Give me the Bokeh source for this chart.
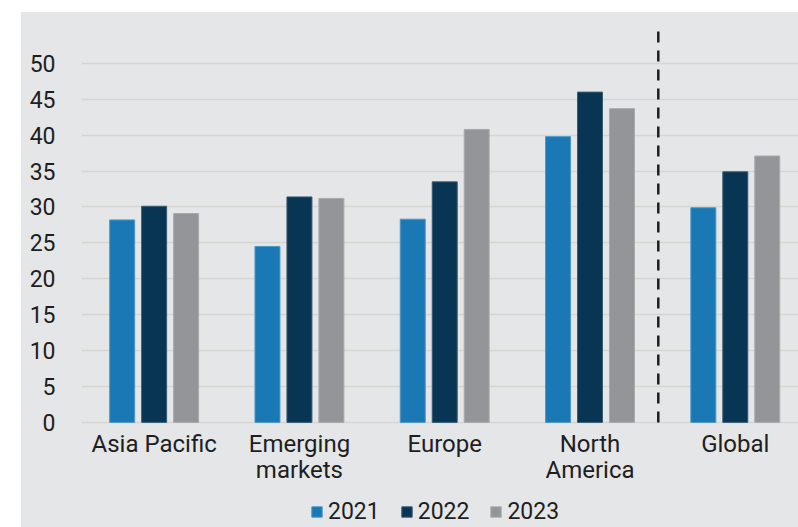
from bokeh.plotting import figure
from bokeh.models import (ColumnDataSource, FixedTicker, Legend, LegendItem)
from bokeh.transform import dodge
from bokeh.core.properties import value
from bokeh.embed import file_html
from bokeh.resources import INLINE

# ---- data ----
categories = ["Asia Pacific", "Emerging\nmarkets", "Europe", "North\nAmerica", "Global"]
years = ["2021", "2022", "2023"]
v2021 = [28.2, 24.5, 28.3, 39.8, 29.9]
v2022 = [30.1, 31.4, 33.5, 46.0, 34.9]
v2023 = [29.1, 31.2, 40.8, 43.7, 37.1]
y_ticks = [0, 5, 10, 15, 20, 25, 30, 35, 40, 45, 50]
separator_x = 3.47   # dashed divider between regions and Global

colors = ["#1a78b4", "#083553", "#939598"]
edge_colors = ["#4f97c6", "#3a5a72", "#a9abad"]
BG = "#e5e6e8"
TXT = "#1e1e1e"
FONT = "Roboto"

Y_TOP = 55
Y_BOTTOM = -14.64   # extra room below zero for category labels and legend

xpos = list(range(len(categories)))
src = ColumnDataSource(dict(x=xpos, y2021=v2021, y2022=v2022, y2023=v2023))
lab_src = ColumnDataSource(dict(x=xpos, y=[0] * len(categories), text=categories))

p = figure(width=777, height=515, x_range=(-0.5, 4.435), y_range=(Y_BOTTOM, Y_TOP),
           output_backend="svg", toolbar_location=None,
           min_border_left=60, min_border_right=0, min_border_top=15,
           min_border_bottom=0, margin=(12, 0, 0, 21))
p.styles = {"background-color": BG}
p.background_fill_alpha = 0
p.border_fill_alpha = 0
p.outline_line_color = None

bar_w = 0.172
offs = [-0.22, 0.0, 0.22]
renderers = []
for yr, col, ecol, off in zip(years, colors, edge_colors, offs):
    r = p.vbar(x=dodge("x", off), top="y" + yr, width=bar_w, source=src,
               fill_color=col, line_color=ecol, line_width=1)
    renderers.append(r)

# dashed separator between regions and Global
p.segment(x0=[separator_x], y0=[0], x1=[separator_x], y1=[Y_TOP],
          line_color="#1e1e1e", line_width=2.5, line_dash="11 8")

# category labels under the bars
p.text(x="x", y="y", text="text", source=lab_src, text_align="center",
       text_baseline="top", y_offset=8, text_font=value(FONT),
       text_font_size="24px", text_color=TXT, text_line_height=0.9)

# axes
p.xaxis.visible = False

p.yaxis.ticker = FixedTicker(ticks=y_ticks)
p.yaxis.axis_line_color = None
p.yaxis.major_tick_line_color = None
p.yaxis.minor_tick_line_color = None
p.yaxis.major_label_text_font = FONT
p.yaxis.major_label_text_font_size = "23px"
p.yaxis.major_label_text_color = TXT
p.yaxis.major_label_standoff = 20

p.xgrid.grid_line_color = None
p.ygrid.ticker = FixedTicker(ticks=y_ticks)
p.ygrid.grid_line_color = "#d7d5d2"
p.ygrid.grid_line_width = 1.6

legend = Legend(items=[LegendItem(label=yr, renderers=[r]) for yr, r in zip(years, renderers)],
                location=(229, 2), orientation="horizontal")
legend.background_fill_alpha = 0
legend.border_line_color = None
legend.padding = 0
legend.margin = 0
legend.spacing = 20
legend.label_standoff = 5
legend.glyph_width = 13
legend.glyph_height = 13
legend.label_text_font = FONT
legend.label_text_font_size = "23px"
legend.label_text_color = TXT
p.add_layout(legend)

with open("out.html", "w") as f:
    f.write(file_html(p, INLINE))
